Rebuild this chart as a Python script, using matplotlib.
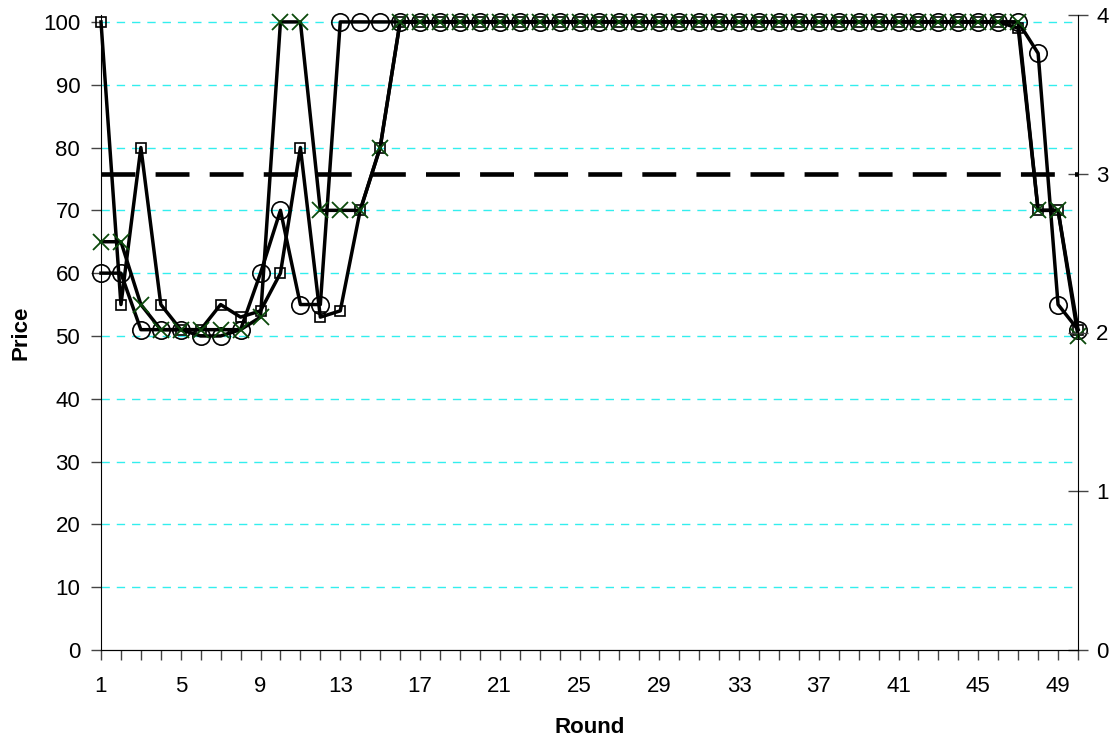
import numpy as np
import matplotlib
matplotlib.use('Agg')
import matplotlib.pyplot as plt

plt.rcParams['font.family'] = ['Liberation Sans', 'DejaVu Sans']

# ================================
# data

rounds = list(range(1, 51))

price_sq = [100, 55, 80, 55, 51, 51, 55, 53, 54, 60,
            80, 53, 54, 70, 80] + [100] * 31 + [99, 70, 70, 51]
price_circ = [60, 60, 51, 51, 51, 50, 50, 51, 60, 70,
              55, 55, 100, 100, 100] + [100] * 32 + [95, 55, 51]
price_x = [65, 65, 55, 51, 51, 51, 51, 51, 53, 100,
           100, 70, 70, 70, 80] + [100] * 32 + [70, 70, 50]
benchmark = [3] * 50

xtick_labels = list(range(1, 51, 4))

# ================================
# plot

fig = plt.figure(figsize=(11.2, 7.43), dpi=100)
ax = fig.add_axes([101 / 1120, 1 - 650 / 743, (1078 - 101) / 1120, (650 - 15) / 743])

ax.plot(rounds, price_sq, color='black', lw=2.5, marker='s', ms=7,
        mfc='none', mec='black', mew=1.2, zorder=3, clip_on=False)
ax.plot(rounds, price_circ, color='black', lw=2.5, marker='o', ms=12.5,
        mfc='none', mec='black', mew=1.2, zorder=3, clip_on=False)
ax.plot(rounds, price_x, color='black', lw=2.5, marker='x', ms=12,
        mec='#0b4a0b', mew=1.3, zorder=3, clip_on=False)

ax.set_xlim(1, 50)
ax.set_ylim(0, 101.1)
ax.set_yticks(range(0, 101, 10))
ax.set_xticks(rounds)
ax.set_xticklabels([str(r) if r in xtick_labels else '' for r in rounds])
ax.tick_params(axis='both', labelsize=16, length=7, width=1, color='#444444')
ax.tick_params(axis='x', pad=12)
ax.tick_params(axis='y', pad=8)

for y in range(10, 101, 10):
    ax.axhline(y, color='#33eeee', lw=1, ls=(0, (6, 5)), zorder=1)

ax.spines['top'].set_visible(False)
ax.spines['right'].set_visible(False)
ax.set_xlabel('Round', fontsize=16, fontweight='bold', labelpad=14)
ax.set_ylabel('Price', fontsize=16, fontweight='bold', labelpad=8)

ax2 = ax.twinx()
ax2.plot(rounds, benchmark, color='black', lw=3.3, ls=(0, (7.4, 4.4)), zorder=4)
ax2.set_ylim(0, 4)
ax2.set_yticks(range(0, 5))
ax2.tick_params(axis='y', labelsize=16, length=14, width=1, direction='inout',
                color='#444444', pad=6)
ax2.spines['top'].set_visible(False)
ax2.spines['left'].set_visible(False)

fig.savefig('out.png', dpi=100)
